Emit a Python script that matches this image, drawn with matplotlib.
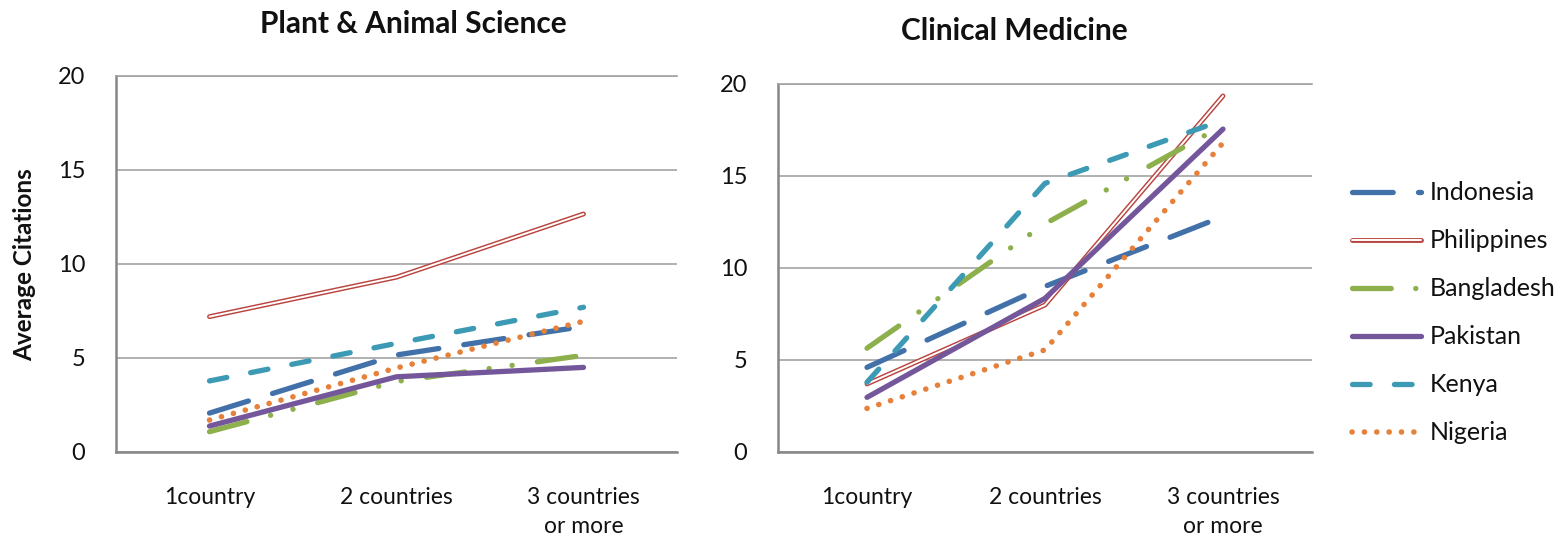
import matplotlib
matplotlib.use("Agg")
import matplotlib.pyplot as plt
from matplotlib.lines import Line2D
from matplotlib.legend_handler import HandlerTuple

plt.rcParams["font.family"] = ["Lato", "DejaVu Sans"]
plt.rcParams["lines.scale_dashes"] = False

# ---- data -------------------------------------------------------------
categories = ["1country", "2 countries", "3 countries\nor more"]
countries = ["Indonesia", "Philippines", "Bangladesh", "Pakistan", "Kenya", "Nigeria"]

# Plant & Animal Science
plant_indonesia = [2.07, 5.16, 6.68]
plant_philippines = [7.20, 9.30, 12.66]
plant_bangladesh = [1.08, 3.75, 5.14]
plant_pakistan = [1.38, 4.00, 4.50]
plant_kenya = [3.78, 5.78, 7.70]
plant_nigeria = [1.70, 4.47, 6.95]

# Clinical Medicine
clin_indonesia = [4.60, 9.00, 12.80]
clin_philippines = [3.70, 7.99, 19.35]
clin_bangladesh = [5.64, 12.40, 17.75]
clin_pakistan = [2.97, 8.35, 17.55]
clin_kenya = [3.79, 14.60, 18.04]
clin_nigeria = [2.37, 5.55, 16.80]

plant_values = [plant_indonesia, plant_philippines, plant_bangladesh,
                plant_pakistan, plant_kenya, plant_nigeria]
clin_values = [clin_indonesia, clin_philippines, clin_bangladesh,
               clin_pakistan, clin_kenya, clin_nigeria]

# ---- styles -----------------------------------------------------------
LW = 3.8  # points
colors = {
    "Indonesia": "#4271AA",
    "Philippines": "#B9443F",
    "Bangladesh": "#8DB04D",
    "Pakistan": "#74579B",
    "Kenya": "#3C9AB4",
    "Nigeria": "#E5813A",
}
dashes = {
    "Indonesia": (29.3, 18.2),
    "Philippines": None,
    "Bangladesh": (27.9, 17.6, 0.1, 16.6, 0.1, 18.3),
    "Pakistan": None,
    "Kenya": (12.7, 17.5),
    "Nigeria": (0.1, 8.8),
}


def line_kwargs(name):
    kw = dict(color=colors[name], lw=LW, solid_capstyle="round",
              dash_capstyle="round", solid_joinstyle="round",
              dash_joinstyle="round")
    if name == "Philippines":
        kw["lw"] = 3.5
    if name == "Nigeria":
        kw["lw"] = 4.0
    if dashes[name] is not None:
        kw["dashes"] = dashes[name]
    return kw


def draw_series(ax, name, values):
    x = list(range(len(values)))
    ax.plot(x, values, **line_kwargs(name))
    if name == "Philippines":
        # hollow double line
        ax.plot(x, values, color="white", lw=1.4, solid_capstyle="round",
                solid_joinstyle="round")


def style_axes(ax):
    ax.set_xlim(-0.5, 2.5)
    ax.set_ylim(0, 20)
    ax.set_yticks([0, 5, 10, 15, 20])
    ax.set_xticks(range(len(categories)))
    ax.set_xticklabels(categories, linespacing=1.45)
    ax.yaxis.grid(True, color="#A3A3A3", lw=1.2)
    ax.set_axisbelow(True)
    ax.spines["right"].set_visible(False)
    ax.spines["top"].set_color("#A3A3A3")
    ax.spines["top"].set_linewidth(1.2)
    for s in ("left", "bottom"):
        ax.spines[s].set_color("#878787")
        ax.spines[s].set_linewidth(1.8)
    ax.tick_params(axis="y", length=0, pad=22, labelsize=17, labelcolor="#111111")
    ax.tick_params(axis="x", length=0, pad=25.5, labelsize=16.5, labelcolor="#111111")


W, H = 1562, 538
fig = plt.figure(figsize=(W / 100, H / 100), dpi=100)

ax1 = fig.add_axes([116 / W, 1 - 452 / H, 561 / W, 376 / H])
ax2 = fig.add_axes([778 / W, 1 - 452 / H, 534 / W, 368 / H])

for name, vals in zip(countries, plant_values):
    draw_series(ax1, name, vals)
for name, vals in zip(countries, clin_values):
    draw_series(ax2, name, vals)

style_axes(ax1)
style_axes(ax2)

fig.text(413 / W, 1 - 24 / H, "Plant & Animal Science", ha="center", va="center",
         fontsize=21.5, fontweight="bold", color="#111111")
fig.text(1014 / W, 1 - 31 / H, "Clinical Medicine", ha="center", va="center",
         fontsize=21.5, fontweight="bold", color="#111111")
fig.text(25 / W, 1 - 265 / H, "Average Citations", rotation=90, ha="center",
         va="center", fontsize=17.5, fontweight="bold", color="#111111")

# ---- legend -----------------------------------------------------------
handles = []
for name in countries:
    h = Line2D([], [], **line_kwargs(name))
    if name == "Philippines":
        h = (h, Line2D([], [], color="white", lw=1.4, solid_capstyle="round"))
    handles.append(h)

fig.legend(handles, countries, loc="center left",
           bbox_to_anchor=(1352 / W, 1 - 313 / H), frameon=False,
           borderpad=0, borderaxespad=0, handlelength=2.75, handletextpad=0.35,
           labelspacing=1.0, fontsize=18, labelcolor="#111111",
           handler_map={tuple: HandlerTuple(ndivide=1)})

fig.savefig("out.png", dpi=100)
